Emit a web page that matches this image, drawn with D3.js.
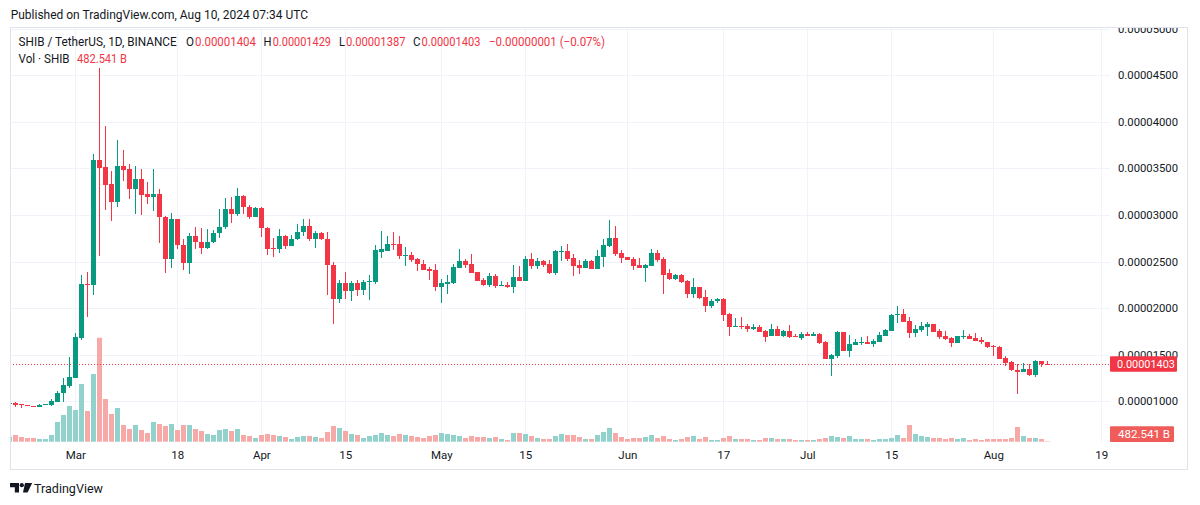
<!DOCTYPE html>
<html><head><meta charset="utf-8">
<script src="https://cdn.jsdelivr.net/npm/d3@7"></script>
<style>
html,body{margin:0;padding:0;background:#fff;}
svg{display:block;font-family:Roboto,"Noto Sans",sans-serif;}
</style>
</head><body>
<svg id="chart" width="1200" height="505"></svg>
<script>
// ---------------- DATA (prices in units of 1e-8 USDT, volume in billions SHIB) ----------------
const PRICE_UNIT = 1e-8;
const firstDay = "2024-02-19"; // one candle per day, consecutive, through 2024-08-10

const open = [
  968,985,971,957,950,942,964,965,996,1086,1168, // Feb 19-29
  1254,1683,2255,2248,3589,3511,3332,3142,3525,3490,3281,3385,3224,3196,3224,2981,2530,2952,2681,2487,2774,2713,2648,2709,2806,2870,3063,3013,3203,3085,2981, // Mar
  3074,2863,2645,2638,2774,2670,2741,2817,2881,2741,2806,2741,2462,2101,2269,2187,2269,2198,2280,2284,2602,2613,2688,2688,2563,2570,2527,2477,2420,2409, // Apr
  2226,2262,2273,2430,2505,2473,2387,2302,2248,2344,2241,2248,2226,2334,2291,2527,2452,2505,2473,2377,2602,2613,2538,2462,2430,2505,2420,2548,2666,2752,2591, // May
  2548,2527,2462,2430,2452,2591,2527,2377,2312,2355,2291,2151,2226,2119,2023,2076,2098,1940,1801,1808,1808,1776,1797,1754,1697,1776,1704,1754,1701,1683, // Jun
  1722,1704,1722,1636,1454,1486,1744,1540,1604,1633,1640,1615,1636,1701,1754,1929,1937,1862,1736,1765,1801,1829,1754,1701,1683,1629,1690,1701,1679,1661,1640, // Jul
  1597,1586,1465,1425,1340,1318,1347,1282,1432,1404 // Aug 1-10
];
const high = [
  990,992,975,962,952,968,974,1021,1110,1246,1475,
  1733,2352,2387,3653,4573,3954,3471,3804,3696,3546,3525,3493,3353,3493,3278,2990,3017,2960,2741,2802,2870,2856,2845,2834,3063,3181,3192,3289,3217,3110,3088,
  3080,2870,2752,2849,2780,2784,2902,2956,2956,2827,2817,2817,2495,2301,2387,2291,2302,2302,2355,2677,2827,2774,2817,2774,2656,2602,2538,2516,2441,2473,
  2312,2355,2473,2634,2527,2580,2390,2323,2377,2366,2291,2280,2462,2452,2559,2591,2538,2516,2516,2620,2666,2688,2580,2516,2527,2516,2623,2741,2945,2881,2623,
  2550,2548,2538,2473,2634,2623,2548,2420,2366,2366,2302,2323,2230,2194,2098,2105,2105,1947,1890,1905,1829,1829,1815,1765,1829,1808,1765,1819,1722,1744,
  1744,1744,1733,1647,1508,1754,1744,1711,1668,1690,1701,1668,1744,1776,1940,2023,1990,1905,1819,1851,1851,1829,1776,1754,1693,1701,1765,1722,1733,1690,1640,
  1604,1590,1486,1432,1400,1411,1400,1443,1432,1429
];
const low = [
  960,942,932,945,938,938,960,953,992,996,1146,
  1246,1658,1908,2144,2563,3053,2935,3088,3367,3171,3010,2999,3117,3045,2702,2380,2434,2638,2412,2369,2634,2584,2634,2700,2756,2849,2917,2992,3013,2960,2974,
  2763,2573,2552,2588,2638,2663,2727,2774,2720,2645,2731,2141,1833,2058,2101,2080,2133,2144,2090,2262,2538,2613,2623,2527,2452,2495,2398,2409,2302,2187,
  2055,2155,2262,2430,2430,2377,2288,2237,2226,2216,2241,2216,2162,2288,2288,2420,2420,2441,2366,2355,2505,2505,2344,2366,2430,2420,2420,2441,2656,2559,2484,
  2514,2409,2428,2280,2450,2495,2151,2302,2302,2270,2108,2108,2098,1958,2001,2058,1866,1704,1801,1776,1747,1765,1740,1636,1697,1704,1690,1679,1693,1661,
  1704,1704,1615,1453,1271,1465,1540,1475,1604,1604,1615,1583,1636,1701,1754,1844,1854,1683,1693,1744,1704,1747,1672,1661,1586,1629,1672,1668,1651,1618,1575,
  1486,1450,1379,1325,1080,1314,1271,1264,1372,1387
];
const close = [
  980,964,957,950,942,964,971,1003,1089,1175,1257,
  1690,2255,2248,3589,3507,3321,3142,3525,3482,3281,3385,3214,3196,3224,2981,2530,2952,2681,2487,2774,2713,2648,2709,2806,2870,3063,3013,3203,3081,2981,3074,
  2863,2638,2638,2774,2670,2741,2817,2881,2741,2806,2741,2462,2101,2269,2187,2269,2198,2280,2291,2623,2634,2688,2681,2559,2570,2516,2477,2409,2398,2226,
  2269,2280,2441,2505,2462,2377,2291,2248,2344,2237,2248,2226,2334,2291,2527,2452,2505,2462,2377,2613,2613,2527,2452,2430,2505,2420,2559,2677,2752,2580,2538,
  2516,2452,2430,2462,2591,2516,2355,2312,2355,2280,2151,2226,2108,2023,2076,2098,1930,1801,1808,1801,1776,1797,1747,1690,1776,1704,1754,1690,1693,1722,
  1704,1726,1626,1454,1493,1744,1540,1615,1636,1640,1615,1647,1711,1765,1929,1937,1854,1736,1776,1808,1829,1747,1693,1672,1629,1701,1697,1672,1651,1640,1586,
  1579,1457,1414,1332,1318,1347,1282,1436,1404,1403
];
const volume = [
  5000,6700,4700,3700,3700,2700,2700,6700,19700,26700,35700,
  31700,57700,30700,67700,104000,42700,27700,33700,16700,12700,16700,11700,8700,19700,17700,15700,17700,11700,16700,16700,12700,10700,7700,6700,11700,12700,10700,12700,6700,5700,3700,
  6700,7700,6700,5700,4700,2700,4700,5700,5700,4700,3700,9700,15700,13700,10700,7700,6700,3700,5700,6700,8700,6700,5700,7700,6700,5700,4700,3700,5700,6700,
  8700,7700,6700,5700,3700,5700,4700,4700,3700,4700,2700,1700,8700,8700,7700,5700,3700,2700,2700,5700,7700,6700,6700,4700,2700,2700,6700,9700,13700,8700,4700,
  2700,3700,3700,4700,6700,3700,5700,2700,1700,2700,4700,5700,2700,4700,1700,1700,3700,5700,2700,2700,2700,1700,1700,3700,3700,2700,2700,2700,1700,1700,
  1700,1700,2700,3700,5700,4700,3700,5700,2700,2700,2700,1700,2700,2700,3700,6700,3700,16700,7700,5700,4700,3700,3700,2700,3700,2700,3700,1700,2700,1700,2700,
  2700,2700,2700,3700,14700,5700,3700,3700,2700,482.541
];

const priceTicks = [0.00001,0.000015,0.00002,0.000025,0.00003,0.000035,0.00004,0.000045,0.00005];
const timeTickDates = ["2024-03-01","2024-03-18","2024-04-01","2024-04-15","2024-05-01","2024-05-15","2024-06-01","2024-06-17","2024-07-01","2024-07-15","2024-08-01","2024-08-19"];
const timeTickLabels = ["Mar","18","Apr","15","May","15","Jun","17","Jul","15","Aug","19"];

const title = "SHIB / TetherUS, 1D, BINANCE";
const published = "Published on TradingView.com, Aug 10, 2024 07:34 UTC";
const volLabel = "482.541 B";
const changeText = "\u22120.00000001 (\u22120.07%)";

// ---------------- BUILD ----------------
const parse = d3.utcParse("%Y-%m-%d");
const day0 = parse(firstDay);
const candles = open.map((o,i)=>({
  date: d3.utcDay.offset(day0, i),
  o: o*PRICE_UNIT, h: high[i]*PRICE_UNIT, l: low[i]*PRICE_UNIT, c: close[i]*PRICE_UNIT, v: volume[i]
}));
const last = candles[candles.length-1];

const UP = "#089981", DOWN = "#f23645";
const VUP = "#92d2cc", VDOWN = "#f7a9a7";
const TXT = "#131722", GRID = "#f0f3fa", BORDER = "#e0e3eb";

const pane = {left:10, right:1110, top:27, bottom:442};
const frame = {left:10, right:1188, top:27, bottom:469.5};

const svg = d3.select("#chart");
svg.append("rect").attr("width",1200).attr("height",505).attr("fill","#fff");

const x = d3.scaleUtc()
  .domain([parse("2024-04-01"), parse("2024-08-19")])
  .range([261.3, 1101.3]);
const y = d3.scaleLinear().domain([0.00001, 0.00005]).range([401.3, 28.5]);
const yv = d3.scaleLinear().domain([0, d3.max(volume)]).range([441.7, 337.7]);

const defs = svg.append("defs");
defs.append("clipPath").attr("id","paneClip").append("rect")
  .attr("x",pane.left).attr("y",pane.top).attr("width",pane.right-pane.left).attr("height",pane.bottom-pane.top);
defs.append("clipPath").attr("id","axisClip").append("rect")
  .attr("x",pane.right).attr("y",pane.top).attr("width",frame.right-pane.right).attr("height",frame.bottom-pane.top);

// grid
const g = svg.append("g").attr("clip-path","url(#paneClip)");
const tickDates = timeTickDates.map(parse);
g.selectAll("line.vg").data(tickDates).join("line")
  .attr("x1",d=>Math.round(x(d))+0.5).attr("x2",d=>Math.round(x(d))+0.5)
  .attr("y1",pane.top).attr("y2",pane.bottom).attr("stroke",GRID).attr("stroke-width",1);
g.selectAll("line.hg").data(priceTicks).join("line")
  .attr("x1",pane.left).attr("x2",pane.right)
  .attr("y1",d=>Math.round(y(d))+0.5).attr("y2",d=>Math.round(y(d))+0.5)
  .attr("stroke",GRID).attr("stroke-width",1);

// volume
g.selectAll("rect.vol").data(candles).join("rect")
  .attr("x",d=>Math.round(x(d.date))-2).attr("width",5)
  .attr("y",d=>yv(d.v)).attr("height",d=>yv(0)-yv(d.v))
  .attr("fill",d=>d.c>=d.o?VUP:VDOWN);

// last price line
const yLast = y(last.c);
g.append("line").attr("x1",pane.left).attr("x2",pane.right)
  .attr("y1",Math.round(yLast)+0.5).attr("y2",Math.round(yLast)+0.5)
  .attr("stroke",DOWN).attr("stroke-width",1).attr("stroke-dasharray","1,2");

// candles
const cg = g.selectAll("g.c").data(candles).join("g").attr("shape-rendering","crispEdges");
cg.append("rect")
  .attr("x",d=>Math.round(x(d.date))).attr("width",1)
  .attr("y",d=>y(d.h)).attr("height",d=>Math.max(1,y(d.l)-y(d.h)))
  .attr("fill",d=>d.c>=d.o?UP:DOWN);
cg.append("rect")
  .attr("x",d=>Math.round(x(d.date))-2).attr("width",5)
  .attr("y",d=>y(Math.max(d.o,d.c)))
  .attr("height",d=>Math.max(1,Math.abs(y(d.o)-y(d.c))))
  .attr("fill",d=>d.c>=d.o?UP:DOWN);

// price axis
const pa = svg.append("g").attr("clip-path","url(#axisClip)")
  .append("g").attr("transform",`translate(${1118},0)`)
  .call(d3.axisRight(y).tickValues(priceTicks).tickFormat(d=>d.toFixed(8)).tickSize(0).tickPadding(0));
pa.select(".domain").remove();
pa.selectAll("text").attr("fill",TXT).attr("font-size","11.2px").attr("font-family","Roboto, sans-serif")
  .attr("textLength",60).attr("lengthAdjust","spacingAndGlyphs");

// last price label
const lp = svg.append("g");
lp.append("rect").attr("x",1110).attr("y",yLast-7.6).attr("width",67).attr("height",15.6).attr("fill",DOWN).attr("rx",1);
lp.append("text").attr("x",1117).attr("y",yLast).attr("dy","0.35em").attr("fill","#fff")
  .attr("font-size","11.2px").attr("textLength",58).attr("lengthAdjust","spacingAndGlyphs")
  .text(last.c.toFixed(8));

// volume label
const yVolLab = Math.min(yv(last.v), pane.bottom - 8);
lp.append("rect").attr("x",1110).attr("y",yVolLab-7.8).attr("width",64).attr("height",15.7).attr("fill","#ef5350").attr("opacity",0.95).attr("rx",1);
lp.append("text").attr("x",1118).attr("y",yVolLab).attr("dy","0.35em").attr("fill","#fff")
  .attr("font-size","11.2px").attr("textLength",52).attr("lengthAdjust","spacingAndGlyphs")
  .text(volLabel);

// time axis
const ta = svg.append("g").attr("transform",`translate(0,${pane.bottom})`)
  .call(d3.axisBottom(x).tickValues(tickDates).tickFormat((d,i)=>timeTickLabels[i]).tickSize(0).tickPadding(9));
ta.select(".domain").remove();
ta.selectAll("text").attr("fill",TXT).attr("font-size","11.5px").attr("font-family","Roboto, sans-serif");

// frame
svg.append("rect").attr("x",frame.left+0.5).attr("y",frame.top+0.5)
  .attr("width",frame.right-frame.left-1).attr("height",frame.bottom-frame.top-0.5)
  .attr("fill","none").attr("stroke",BORDER).attr("stroke-width",1);

// header texts
function txt(s, xs, xe, yc, color, size){
  const t = svg.append("text").attr("x",xs).attr("y",yc).attr("dy","0.35em")
    .attr("fill",color).attr("font-size",size+"px").text(s);
  if (xe) t.attr("textLength",xe-xs).attr("lengthAdjust","spacingAndGlyphs");
  return t;
}
txt(published, 10.7, 308, 15, TXT, 12.5);
txt(title, 18.6, 176.7, 42, TXT, 12.5);
const fmt = v => v.toFixed(8);
txt("O", 186, 194, 42, TXT, 12.5); txt(fmt(last.o), 195, 256, 42, DOWN, 12.5);
txt("H", 263.5, 271.5, 42, TXT, 12.5); txt(fmt(last.h), 272.7, 331, 42, DOWN, 12.5);
txt("L", 339, 345, 42, TXT, 12.5); txt(fmt(last.l), 346, 405.5, 42, DOWN, 12.5);
txt("C", 413, 420.5, 42, TXT, 12.5); txt(fmt(last.c), 421.5, 480.5, 42, DOWN, 12.5);
txt(changeText, 489, 605, 42, DOWN, 12.5);
txt("Vol \u00b7 SHIB", 18.6, 69.6, 59, TXT, 12.5);
txt(volLabel, 77, 127, 59, DOWN, 12.5);

// TradingView logo
const logo = svg.append("g").attr("fill",TXT);
logo.append("path").attr("d","M10,483 h9 v9.5 h-4.2 v-5.3 h-4.8 z");
logo.append("circle").attr("cx",21.8).attr("cy",485.2).attr("r",2.1);
logo.append("path").attr("d","M25,483 h7.2 l-4.6,9.5 h-4.6 z");
txt("TradingView", 34, 103, 488, TXT, 13.5);
</script>
</body></html>
